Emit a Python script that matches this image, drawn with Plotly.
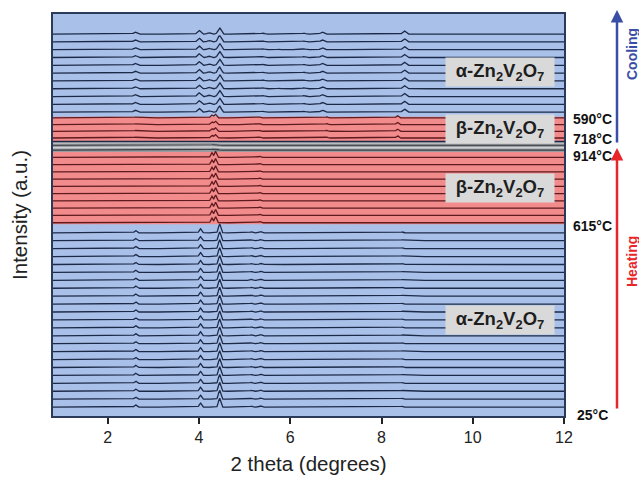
import numpy as np
import plotly.graph_objects as go

# ---------------- data ----------------
# peak tables per phase / segment: 2theta position and relative height (offset units)
HEAT_ALPHA_POS = [2.61, 4.03, 4.45, 5.15, 5.35, 6.30, 6.70, 8.45, 9.10]
HEAT_ALPHA_H   = [0.28, 0.52, 1.15, 0.12, 0.15, 0.05, 0.07, 0.10, 0.04]

HEAT_BETA_POS = [2.65, 4.28, 4.36, 5.33, 6.80, 8.35]
HEAT_BETA_H   = [0.08, 0.62, 0.78, 0.15, 0.04, 0.06]

GRAY_POS = [4.30, 4.40, 5.33]
GRAY_H   = [0.10, 0.12, 0.04]

COOL_BETA_POS = [2.60, 4.28, 4.36, 5.33, 6.80, 8.35]
COOL_BETA_H   = [0.10, 0.35, 0.45, 0.10, 0.12, 0.28]

COOL_ALPHA_POS = [2.60, 4.00, 4.22, 4.45, 5.15, 5.40, 5.75, 6.30, 6.70, 7.80, 8.50, 9.90]
COOL_ALPHA_H   = [0.25, 0.48, 0.18, 0.80, 0.08, 0.12, 0.06, 0.12, 0.25, 0.05, 0.40, 0.05]

N_HEAT_ALPHA = 23
N_HEAT_BETA = 10
N_GRAY = 4
N_COOL_BETA = 4
N_COOL_ALPHA = 11

X_TICKS = [2, 4, 6, 8, 10, 12]
TEMP_LABELS = ["25°C", "615°C", "914°C", "718°C", "590°C"]
PHASE_LABELS = ["α-Zn<sub>2</sub>V<sub>2</sub>O<sub>7</sub>",
                "β-Zn<sub>2</sub>V<sub>2</sub>O<sub>7</sub>",
                "β-Zn<sub>2</sub>V<sub>2</sub>O<sub>7</sub>",
                "α-Zn<sub>2</sub>V<sub>2</sub>O<sub>7</sub>"]

# ---------------- rendering ----------------
FONT = "Liberation Sans, Arial, sans-serif"
BLUE_BG = "#a9c0e8"
RED_BG = "#f28b8b"
GRAY_BG = "#9a9c9f"
NAVY = "#1c2a48"
MAROON = "#5e1a1e"

x = np.linspace(0.8, 12, 2000)


def profile(pos, h, sigma):
    y = np.zeros_like(x)
    for p, a in zip(pos, h):
        y += a * np.exp(-0.5 * ((x - p) / sigma) ** 2)
    return y


fig = go.Figure()

segments = [
    # (n, first baseline, step, pos, h, sigma, color)
    (N_HEAT_ALPHA, 1.15, 1.025, HEAT_ALPHA_POS, HEAT_ALPHA_H, 0.025, NAVY),
    (N_HEAT_BETA, 25.0, 0.94, HEAT_BETA_POS, HEAT_BETA_H, 0.022, MAROON),
    (N_COOL_BETA, 35.96, 0.87, COOL_BETA_POS, COOL_BETA_H, 0.025, MAROON),
    (N_COOL_ALPHA, 39.3, 1.01, COOL_ALPHA_POS, COOL_ALPHA_H, 0.035, NAVY),
]

for n, y0, step, pos, h, sig, col in segments:
    prof = profile(pos, h, sig)
    for i in range(n):
        fig.add_trace(go.Scatter(x=x, y=prof + y0 + i * step, mode="lines",
                                 line=dict(color=col, width=1.3),
                                 hoverinfo="skip", showlegend=False))

gprof = profile(GRAY_POS, GRAY_H, 0.025)
gray_cols = ["#3a3f48", "#d0d2d6", "#4a4f58", "#c4c6ca"]
for i in range(N_GRAY):
    fig.add_trace(go.Scatter(x=x, y=gprof + 34.4 + i * 0.3, mode="lines",
                             line=dict(color=gray_cols[i], width=1.3),
                             hoverinfo="skip", showlegend=False))

shapes = []
for (b0, b1, c) in [(24.8, 34.15, RED_BG), (34.15, 35.5, GRAY_BG), (35.5, 38.7, RED_BG)]:
    shapes.append(dict(type="rect", xref="x", yref="y", x0=0.8, x1=12, y0=b0, y1=b1,
                       fillcolor=c, line=dict(width=0), layer="below"))
# dark top edge of the grey band
shapes.append(dict(type="line", xref="x", yref="y", x0=0.8, x1=12, y0=35.5, y1=35.5,
                   line=dict(color=NAVY, width=1.5)))

L, R, T, B = 53, 75, 14, 61
PW, PH = 639 - L - R, 477 - T - B


def px_x(px):
    return (px - L) / PW


def px_y(py):
    return (477 - B - py) / PH


annotations = []
# phase labels
for lab, cy in zip(PHASE_LABELS, [320, 188, 129, 72]):
    annotations.append(dict(xref="paper", yref="paper", x=px_x(500), y=px_y(cy),
                            xanchor="center", yanchor="middle",
                            text="<b>" + lab + "</b>", showarrow=False,
                            bgcolor="#d9d9d9", width=106, height=26,
                            font=dict(family=FONT, size=18.5, color="#1e1e1e")))
# temperature labels
for lab, py in zip(TEMP_LABELS, [415, 226, 156, 139, 119]):
    annotations.append(dict(xref="paper", yref="paper", x=px_x(592), y=px_y(py),
                            xanchor="center", yanchor="middle",
                            text="<b>" + lab + "</b>", showarrow=False,
                            font=dict(family=FONT, size=14, color="#111")))
# arrows
annotations.append(dict(xref="paper", yref="paper", x=px_x(617), y=px_y(148),
                        text="", showarrow=True, axref="pixel", ayref="pixel",
                        ax=0, ay=262, arrowhead=2, arrowsize=1, arrowwidth=2.5,
                        arrowcolor="#e8262a"))
annotations.append(dict(xref="paper", yref="paper", x=px_x(617), y=px_y(10),
                        text="", showarrow=True, axref="pixel", ayref="pixel",
                        ax=0, ay=134, arrowhead=2, arrowsize=1, arrowwidth=2.5,
                        arrowcolor="#3a4ea6"))
annotations.append(dict(xref="paper", yref="paper", x=px_x(632), y=px_y(54),
                        xanchor="center", yanchor="middle",
                        text="<b>Cooling</b>", showarrow=False, textangle=-90,
                        font=dict(family=FONT, size=14, color="#3a4ea6")))
annotations.append(dict(xref="paper", yref="paper", x=px_x(632), y=px_y(262),
                        xanchor="center", yanchor="middle",
                        text="<b>Heating</b>", showarrow=False, textangle=-90,
                        font=dict(family=FONT, size=14, color="#e8262a")))

fig.update_layout(
    width=639, height=477,
    margin=dict(l=L, r=R, t=T, b=B, autoexpand=False),
    paper_bgcolor="white", plot_bgcolor=BLUE_BG,
    shapes=shapes, annotations=annotations,
    font=dict(family=FONT, color="#222"),
    xaxis=dict(range=[0.8, 12], tickvals=X_TICKS, ticks="outside", ticklen=6,
               tickwidth=1.5, tickcolor="#222", showgrid=False, zeroline=False,
               showline=True, mirror=True, linecolor="#2b3a5a", linewidth=1.5,
               automargin=False,
               tickfont=dict(size=16, color="#222"),
               title=dict(text="2 theta (degrees)", font=dict(size=20.5, color="#222"),
                          standoff=12)),
    yaxis=dict(range=[0, 52], showticklabels=False, ticks="", showgrid=False,
               zeroline=False, showline=True, mirror=True, linecolor="#2b3a5a",
               linewidth=1.5, automargin=False,
               title=dict(text="Intensity (a.u.)", font=dict(size=20.5, color="#222"),
                          standoff=18)),
)

fig.write_html("out.html")
